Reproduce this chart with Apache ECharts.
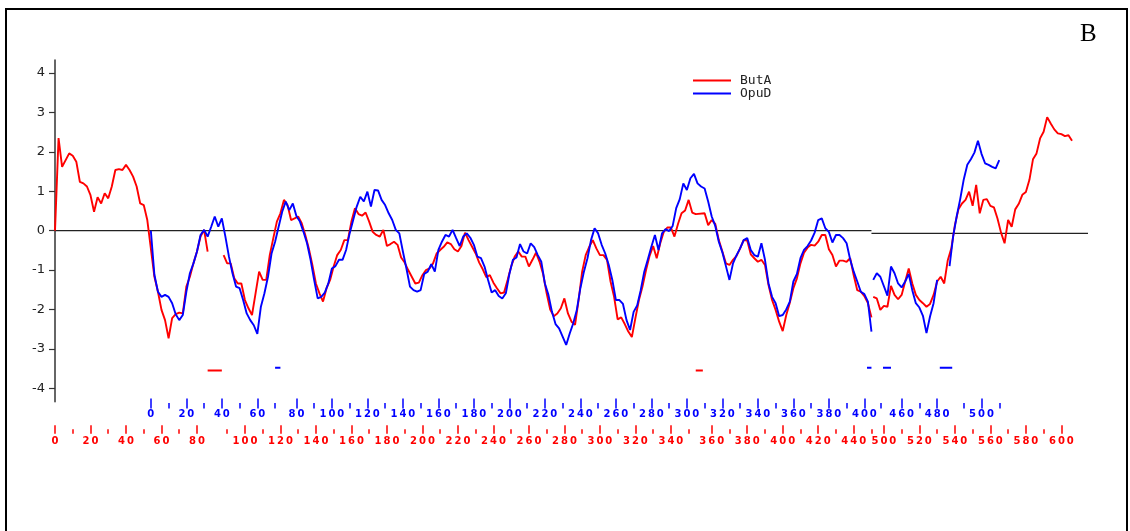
<!DOCTYPE html>
<html>
<head>
<meta charset="utf-8">
<script src="https://cdn.jsdelivr.net/npm/echarts@6/dist/echarts.min.js"></script>
<style>
  html, body { margin: 0; padding: 0; background: #fff; }
  #chart { width: 1130px; height: 531px; }
</style>
</head>
<body>
<div id="chart"></div>
<script>
// Hydropathy profiles of ButA and OpuD drawn on a shared alignment axis.
// Values are sampled every 2 residues; the first residue of each block is given.
const STEP = 2;

// ButA, residues 0..450
const butaLeftFrom = 0;
const butaLeft = [
  0, 2.35, 1.62, 1.79, 1.96, 1.9, 1.75, 1.24, 1.2, 1.12,
  0.9, 0.48, 0.85, 0.69, 0.95, 0.82, 1.12, 1.54, 1.56, 1.54,
  1.67, 1.54, 1.37, 1.12, 0.69, 0.65, 0.27, -0.45, -1.17, -1.55,
  -2.01, -2.27, -2.73, -2.22, -2.12, -2.08, -2.1, -1.42, -1.17, -0.83,
  -0.53, -0.15, 0.02, -0.53, -0.62, -0.83, -0.83, -1.21, -1.34, -1.34,
  -1.76, -1.97, -2.14, -1.59, -1.04, -1.25, -1.25, -0.62, -0.19, 0.23,
  0.44, 0.78, 0.65, 0.27, 0.31, 0.36, 0.19, -0.11, -0.45, -0.87,
  -1.34, -1.59, -1.8, -1.46, -1.25, -0.91, -0.62, -0.49, -0.24, -0.24,
  0.23, 0.57, 0.42, 0.38, 0.46, 0.23, -0.03, -0.11, -0.15, 0.02,
  -0.39, -0.34, -0.28, -0.36, -0.68, -0.81, -1.0, -1.17, -1.34, -1.32,
  -1.13, -1.0, -0.96, -0.83, -0.58, -0.49, -0.41, -0.3, -0.34, -0.47,
  -0.53, -0.39, -0.05, -0.24, -0.41, -0.58, -0.81, -0.98, -1.18, -1.13,
  -1.32, -1.46, -1.59, -1.57, -1.25, -0.91, -0.66, -0.53, -0.66, -0.66,
  -0.91, -0.74, -0.56, -0.79, -1.1, -1.59, -2.0, -2.17, -2.1, -1.97,
  -1.72, -2.1, -2.31, -2.39, -1.76, -1.04, -0.62, -0.41, -0.24, -0.45,
  -0.62, -0.62, -0.74, -1.29, -1.68, -2.25, -2.2, -2.37, -2.56, -2.7,
  -2.22, -1.76, -1.42, -1.0, -0.64, -0.39, -0.7, -0.32, -0.03, 0.08,
  0.08, -0.15, 0.17, 0.44, 0.51, 0.78, 0.46, 0.42, 0.44, 0.14,
  0.27, 0.17, -0.24, -0.53, -0.83, -0.87, -0.74, -0.64, -0.45, -0.24,
  -0.25, -0.6, -0.7, -0.79, -0.74, -0.87, -1.38, -1.76, -2.01, -2.31,
  -2.55, -2.14, -1.83, -1.46, -1.21, -0.83, -0.56, -0.43, -0.36, -0.38,
  -0.28, -0.11, -0.11, -0.47, -0.62, -0.91, -0.76, -0.76, -0.79, -0.7,
  -1.13, -1.51, -1.55, -1.66, -1.84, -2.2
];

// ButA, residues 494..606
const butaRightFrom = 494;
const butaRight = [
  -1.68, -1.72, -2.01, -1.91, -1.93, -1.4, -1.63, -1.74, -1.63, -1.29,
  -0.96, -1.34, -1.63, -1.76, -1.84, -1.93, -1.86, -1.63, -1.29, -1.17,
  -1.34, -0.75, -0.45, 0.14, 0.54, 0.69, 0.78, 0.99, 0.63, 1.16,
  0.44, 0.78, 0.8, 0.63, 0.59, 0.31, -0.05, -0.32, 0.27, 0.1,
  0.54, 0.68, 0.91, 0.98, 1.29, 1.81, 1.96, 2.34, 2.51, 2.88,
  2.72, 2.57, 2.47, 2.45, 2.4, 2.42, 2.28
];

// OpuD, residues 0..404
const opudLeftFrom = 0;
const opudLeft = [
  0, -1.12, -1.55, -1.68, -1.63, -1.68, -1.84, -2.12, -2.27, -2.14,
  -1.55, -1.08, -0.83, -0.53, -0.11, 0.02, -0.15, 0.1, 0.36, 0.1,
  0.31, -0.15, -0.66, -1.08, -1.42, -1.46, -1.76, -2.1, -2.27, -2.4,
  -2.62, -1.93, -1.59, -1.17, -0.58, -0.28, 0.48, 0.74, 0.52, 0.69,
  0.37, 0.23, -0.03, -0.32, -0.74, -1.25, -1.72, -1.68, -1.57, -1.34,
  -0.96, -0.9, -0.74, -0.74, -0.49, -0.07, 0.27, 0.61, 0.86, 0.74,
  0.99, 0.61, 1.03, 1.02, 0.78, 0.65, 0.44, 0.27, 0.02, -0.07,
  -0.53, -0.96, -1.42, -1.51, -1.55, -1.51, -1.1, -1.04, -0.85, -1.04,
  -0.49, -0.28, -0.11, -0.15, 0.02, -0.19, -0.39, -0.15, -0.07, -0.18,
  -0.36, -0.66, -0.7, -0.91, -1.25, -1.57, -1.51, -1.66, -1.72, -1.59,
  -1.1, -0.74, -0.68, -0.34, -0.53, -0.58, -0.32, -0.42, -0.62, -0.79,
  -1.34, -1.63, -2.06, -2.37, -2.48, -2.69, -2.9, -2.61, -2.35, -2.01,
  -1.46, -1.04, -0.7, -0.24, 0.06, -0.07, -0.36, -0.58, -0.87, -1.25,
  -1.76, -1.76, -1.86, -2.27, -2.52, -2.06, -1.9, -1.51, -1.04, -0.73,
  -0.41, -0.11, -0.49, -0.07, 0.04, -0.01, 0.12, 0.57, 0.8, 1.2,
  1.03, 1.33, 1.44, 1.2, 1.12, 1.07, 0.74, 0.36, 0.12, -0.28,
  -0.55, -0.9, -1.25, -0.83, -0.62, -0.45, -0.24, -0.19, -0.49, -0.62,
  -0.66, -0.32, -0.74, -1.34, -1.68, -1.84, -2.17, -2.14, -2.0, -1.8,
  -1.29, -1.1, -0.7, -0.49, -0.39, -0.25, -0.05, 0.27, 0.31, 0.06,
  -0.03, -0.3, -0.11, -0.11, -0.19, -0.32, -0.73, -1.04, -1.29, -1.55,
  -1.61, -1.8, -2.56
];

// OpuD, residues 446..510
const opudRightFrom = 446;
const opudRight = [
  -1.25, -1.08, -1.17, -1.65, -0.91, -1.08, -1.34, -1.44, -1.29, -1.1,
  -1.51, -1.84, -1.95, -2.16, -2.6, -2.18, -1.84, -1.25, -0.9, -0.15,
  0.36, 0.8, 1.3, 1.67, 1.81, 1.98, 2.28, 1.95, 1.71, 1.67,
  1.62, 1.58, 1.79
];

// Alignment: [first residue, its alignment column, line broken before it]
const butaSegments = [[0, 0, false], [87, 94, true], [355, 365, false], [493, 460, true]];
const opudSegments = [[0, 54, false], [71, 127, false], [445, 460, true], [452, 469, false], [482, 504, true]];

// Residue ranges shown on either side of the splice
const butaRanges = [[0, 450], [493, 607]];
const opudRanges = [[0, 404], [445, 510]];

// Alignment gaps (column ranges)
const butaGaps = [[86, 94], [361, 365]];
const opudGaps = [[124, 127], [457.5, 460], [466.5, 471], [498.5, 505.5]];

const SPLICE_COL = 460;
const X_MAX = 582;
const yTicks = [-4, -3, -2, -1, 0, 1, 2, 3, 4];
const zeroLevels = [0, -0.067]; // baseline before / after the splice

const RED = '#ff0000';
const BLUE = '#0000ff';

function segIndex(res, segs) {
  let k = 0;
  for (let i = 0; i < segs.length; i++) if (segs[i][0] <= res) k = i;
  return k;
}
function colOf(res, segs) {
  const s = segs[segIndex(res, segs)];
  return s[1] + (res - s[0]);
}

function profile(blocks, segs) {
  const pts = [];
  let prevSeg = -1;
  blocks.forEach(([from, vals]) => {
    vals.forEach((v, i) => {
      const res = from + i * STEP;
      const si = segIndex(res, segs);
      const c = colOf(res, segs);
      if (prevSeg >= 0 && si !== prevSeg && segs[si][2]) pts.push([c, '-']);
      pts.push([c, v]);
      prevSeg = si;
    });
  });
  return pts;
}

function gapMarks(gaps, y) {
  const pts = [];
  gaps.forEach(([a, b]) => { pts.push([a, y], [b, y], [b, '-']); });
  return pts;
}

// Tick positions (alignment columns) for residue numbers
function tickCols(ranges, segs, every, skipEvery) {
  const out = [];
  ranges.forEach(([r0, r1]) => {
    for (let r = Math.ceil(r0 / every) * every; r <= r1; r += every) {
      if (skipEvery && r % skipEvery === 0) continue;
      out.push(colOf(r, segs));
    }
  });
  return out;
}
function labelMap(ranges, segs) {
  const m = new Map();
  ranges.forEach(([r0, r1]) => {
    for (let r = Math.ceil(r0 / 20) * 20; r <= r1; r += 20) m.set(colOf(r, segs), r);
  });
  return m;
}
const spaced = s => String(s).split('').join('\u2009');

const blueLong = tickCols(opudRanges, opudSegments, 20);
const blueShort = tickCols(opudRanges, opudSegments, 10, 20);
const redLong = tickCols(butaRanges, butaSegments, 20);
const redShort = tickCols(butaRanges, butaSegments, 10, 20);
const blueLabels = labelMap(opudRanges, opudSegments);
const redLabels = labelMap(butaRanges, butaSegments);

function resAxis(offset, ticks, len, color, labels) {
  return {
    type: 'value', min: 0, max: X_MAX, position: 'bottom', offset: offset,
    axisLine: { show: false },
    splitLine: { show: false },
    axisTick: { show: true, customValues: ticks, length: len, lineStyle: { color: color, width: 1.5 } },
    axisLabel: labels ? {
      show: true, customValues: ticks, margin: 11, color: color,
      fontFamily: 'DejaVu Sans', fontWeight: 'bold', fontSize: 10,
      formatter: v => labels.has(v) ? spaced(labels.get(v)) : ''
    } : { show: false }
  };
}

const chart = echarts.init(document.getElementById('chart'), null, { renderer: 'canvas' });
chart.setOption({
  animation: false,
  backgroundColor: '#fff',
  grid: { left: 55, width: 1033, top: 60, bottom: 129.3, containLabel: false },
  xAxis: [
    { type: 'value', min: 0, max: X_MAX, show: false },
    resAxis(-3.2, blueLong, 10, BLUE, blueLabels),
    resAxis(1.3, blueShort, 5.5, BLUE, null),
    resAxis(23.5, redLong, 8.5, RED, redLabels),
    resAxis(27.5, redShort, 4.5, RED, null)
  ],
  yAxis: {
    type: 'value', min: -4.34, max: 4.33,
    axisLine: { show: true, lineStyle: { color: '#333', width: 1.5 } },
    axisTick: { show: true, customValues: yTicks, length: 6, lineStyle: { color: '#333', width: 1.2 } },
    axisLabel: { show: true, customValues: yTicks, margin: 10, color: '#222', fontFamily: 'DejaVu Sans', fontSize: 13 },
    splitLine: { show: false }
  },
  legend: {
    data: ['ButA', 'OpuD'], orient: 'vertical', left: 693, top: 74, padding: 0,
    icon: 'rect', itemWidth: 38, itemHeight: 2, itemGap: 0,
    textStyle: { fontFamily: 'DejaVu Sans Mono', fontSize: 13, color: '#222', lineHeight: 13, padding: [0, 0, 0, 4] }
  },
  graphic: [
    { type: 'rect', shape: { x: 6, y: 9, width: 1121, height: 540 }, style: { fill: 'none', stroke: '#000', lineWidth: 2 }, silent: true },
    { type: 'text', left: 1080, top: 22, style: { text: 'B', fontFamily: 'Liberation Serif', fontSize: 25, fill: '#000' } }
  ],
  series: [
    {
      name: 'baseline', type: 'line', symbol: 'none', silent: true, z: 1,
      lineStyle: { color: '#222', width: 1.3 },
      data: [[0, zeroLevels[0]], [SPLICE_COL, zeroLevels[0]], [SPLICE_COL, '-'], [SPLICE_COL, zeroLevels[1]], [X_MAX, zeroLevels[1]]]
    },
    {
      name: 'ButA', type: 'line', symbol: 'none', z: 3, color: RED,
      lineStyle: { color: RED, width: 1.9 },
      data: profile([[butaLeftFrom, butaLeft], [butaRightFrom, butaRight]], butaSegments)
    },
    {
      name: 'OpuD', type: 'line', symbol: 'none', z: 4, color: BLUE,
      lineStyle: { color: BLUE, width: 1.9 },
      data: profile([[opudLeftFrom, opudLeft], [opudRightFrom, opudRight]], opudSegments)
    },
    {
      name: 'ButA gaps', type: 'line', symbol: 'none', silent: true, z: 2,
      lineStyle: { color: RED, width: 2 },
      data: gapMarks(butaGaps, -3.55)
    },
    {
      name: 'OpuD gaps', type: 'line', symbol: 'none', silent: true, z: 2,
      lineStyle: { color: BLUE, width: 2 },
      data: gapMarks(opudGaps, -3.48)
    }
  ]
});
</script>
</body>
</html>
